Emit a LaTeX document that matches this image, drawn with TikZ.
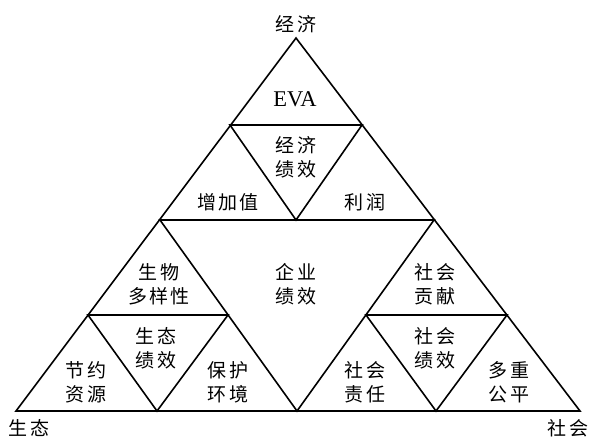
\documentclass[tikz,border=0pt]{standalone}
\usepackage{fontspec}
\setmainfont{Liberation Serif}
\newfontfamily\cjk[LetterSpace=12]{Noto Sans CJK SC}
\begin{document}
\begin{tikzpicture}[x=1pt,y=-1pt,
  edge/.style={line width=1.6pt,line join=miter},
  lbl/.style={font=\cjk\fontsize{19}{24}\selectfont,align=center,inner sep=0pt},
  eva/.style={font=\fontsize{22.5}{24}\selectfont,inner sep=0pt}]
\useasboundingbox (0,0) rectangle (593,441);
% vertices
\coordinate (A) at (296,38);
\coordinate (L) at (16,411);
\coordinate (R) at (580,411);
\coordinate (T1) at (230,125);
\coordinate (T2) at (362,125);
\coordinate (C) at (296,220);
\coordinate (ML) at (160,220);
\coordinate (MR) at (434,220);
\coordinate (BM) at (297,411);
\coordinate (L1) at (88,315);
\coordinate (L2) at (228,315);
\coordinate (LB) at (157,411);
\coordinate (R1) at (366,315);
\coordinate (R2) at (507,315);
\coordinate (RB) at (436,411);
% edges
\draw[edge] (A) -- (L) -- (R) -- cycle;
\draw[edge] (T1) -- (T2) -- (C) -- cycle;
\draw[edge] (ML) -- (MR) -- (BM) -- cycle;
\draw[edge] (L1) -- (L2) -- (LB) -- cycle;
\draw[edge] (R1) -- (R2) -- (RB) -- cycle;
% labels
\node[lbl] (top) at (296,24) {经济};
\node[lbl] (bl) at (29,428) {生态};
\node[lbl] (br) at (568,428) {社会};
\node[eva] (eva) at (295,99) {EVA};
\node[lbl] (jjjx) at (296,157) {经济\\绩效};
\node[lbl] (zjz) at (228,202) {增加值};
\node[lbl] (lr) at (365,202) {利润};
\node[lbl] (qyjx) at (296,284) {企业\\绩效};
\node[lbl] (swdy) at (159,284) {生物\\多样性};
\node[lbl] (shgx) at (435,284) {社会\\贡献};
\node[lbl] (stjx) at (156,348) {生态\\绩效};
\node[lbl] (shjx) at (435,348) {社会\\绩效};
\node[lbl] (jyzy) at (86,382) {节约\\资源};
\node[lbl] (bhhj) at (228,382) {保护\\环境};
\node[lbl] (shzr) at (365,382) {社会\\责任};
\node[lbl] (dcgp) at (509,382) {多重\\公平};
\end{tikzpicture}
\end{document}
